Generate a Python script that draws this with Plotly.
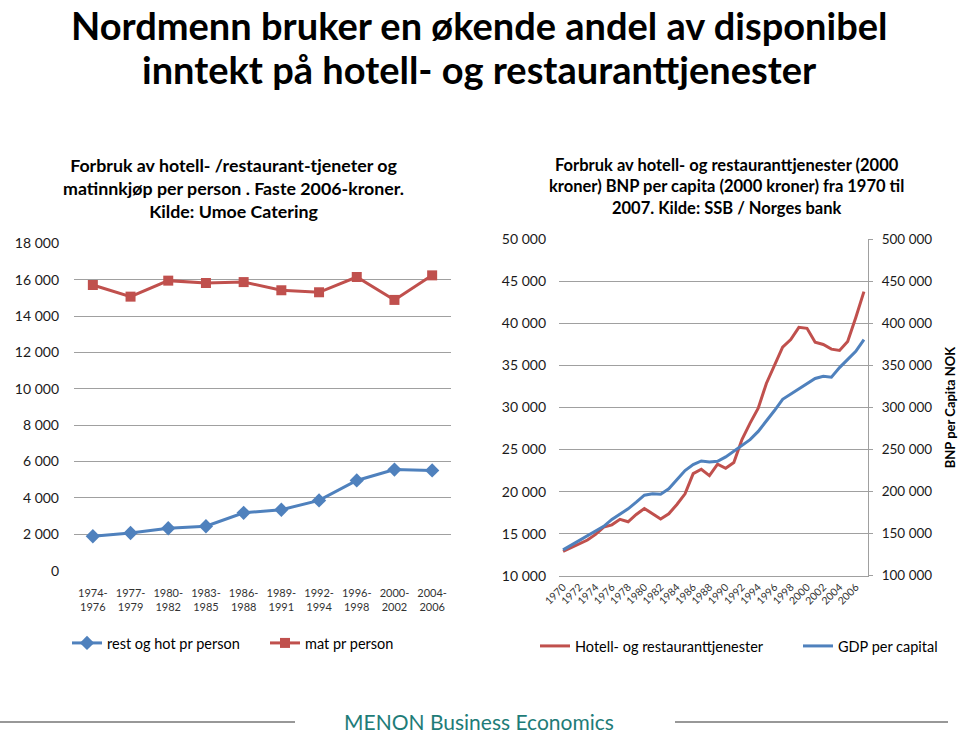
import plotly.graph_objects as go

# left chart: Umoe Catering, faste 2006-kroner
periods = ["1974-1976", "1977-1979", "1980-1982", "1983-1985", "1986-1988",
           "1989-1991", "1992-1994", "1996-1998", "2000-2002", "2004-2006"]
rest_og_hot = [1890, 2070, 2330, 2440, 3180, 3350, 3860, 4960, 5560, 5510]
mat = [15710, 15070, 15950, 15820, 15870, 15420, 15310, 16150, 14890, 16240]

# right chart: SSB / Norges bank, 2000-kroner
years = [str(y) for y in range(1970, 2008)]
hotell_rest = [12900, 13340, 13860, 14250, 14920, 15790, 16050, 16700, 16420, 17290,
               18000, 17370, 16740, 17370, 18470, 19740, 22140, 22660, 21910, 23260,
               22780, 23450, 26200, 28140, 29910, 32860, 35020, 37180, 38080, 39530,
               39410, 37760, 37490, 36940, 36780, 37840, 40710, 43770]
gdp = [130700, 136200, 141700, 147200, 152400, 158700, 167000, 173700, 179600, 187500,
       195800, 197400, 197000, 203300, 214300, 225000, 232100, 236400, 235200, 236100,
       241300, 248400, 255600, 261800, 271600, 283400, 296400, 309700, 316000, 321500,
       327800, 334500, 337200, 336000, 347400, 356800, 366700, 380800]

BLUE = "#4F81BD"
RED = "#C0504D"
GRID = "#a0a0a0"
FONT = "Lato"
W, H = 960, 734


def px_x(x):
    return x / W


def px_y(y):
    return 1 - y / H


fig = go.Figure()

#### left chart ############################################################
fig.add_trace(go.Scatter(
    x=periods, y=rest_og_hot, mode="lines+markers", name="rest og hot pr person",
    line=dict(color=BLUE, width=3), marker=dict(symbol="diamond", size=11, color=BLUE),
    xaxis="x", yaxis="y", legend="legend",
))
fig.add_trace(go.Scatter(
    x=periods, y=mat, mode="lines+markers", name="mat pr person",
    line=dict(color=RED, width=3), marker=dict(symbol="square", size=10, color=RED),
    xaxis="x", yaxis="y", legend="legend",
))

#### right chart ###########################################################
fig.add_trace(go.Scatter(
    x=years, y=hotell_rest, mode="lines", name="Hotell- og restauranttjenester",
    line=dict(color=RED, width=3), xaxis="x2", yaxis="y2", legend="legend2",
))
fig.add_trace(go.Scatter(
    x=years, y=gdp, mode="lines", name="GDP per capital",
    line=dict(color=BLUE, width=3), xaxis="x2", yaxis="y3", legend="legend2",
))

tick_font = dict(family=FONT, size=14, color="#1a1a1a")

fig.update_layout(
    width=W, height=H,
    margin=dict(l=0, r=0, t=0, b=0, autoexpand=False),
    paper_bgcolor="white", plot_bgcolor="white",
    separators=", ",
    font=dict(family=FONT, color="#000"),
    xaxis=dict(
        domain=[px_x(74), px_x(451)], anchor="y", type="category",
        range=[-0.5, 9.5], showgrid=False, showline=False, ticks="",
        tickvals=periods, ticktext=[p.replace("-", "-<br>") for p in periods],
        tickfont=dict(family=FONT, size=11, color="#333"), tickangle=0,
        ticklabelstandoff=14,
    ),
    yaxis=dict(
        domain=[px_y(571), px_y(243)], anchor="x", range=[-20, 18020], dtick=2000,
        tickformat=",d", showgrid=True, gridcolor=GRID, gridwidth=1, zeroline=False,
        showline=False, ticks="", tickfont=tick_font, ticklabelstandoff=14,
    ),
    xaxis2=dict(
        domain=[px_x(559), px_x(868)], anchor="y2", type="category",
        range=[-0.5, 37.5], showgrid=False, showline=True, linecolor=GRID,
        linewidth=1, ticks="", tickvals=years[::2], tickangle=-45,
        tickfont=dict(family=FONT, size=10.5, color="#333"),
    ),
    yaxis2=dict(
        domain=[px_y(576), px_y(239)], anchor="x2", range=[9970, 50030], dtick=5000,
        tickformat=",d", showgrid=True, gridcolor=GRID, gridwidth=1, zeroline=False,
        showline=False, ticks="", tickfont=tick_font, ticklabelstandoff=12,
    ),
    yaxis3=dict(
        overlaying="y2", anchor="x2", side="right", range=[99700, 500300],
        dtick=50000, tickformat=",d", showgrid=False, zeroline=False, showline=True,
        linecolor=GRID, linewidth=1, ticks="outside", ticklen=4,
        tickcolor=GRID, tickfont=dict(family=FONT, size=13.5, color="#1a1a1a"),
        ticklabelstandoff=6,
        title=dict(text="<b>BNP per Capita NOK</b>", standoff=14,
                   font=dict(family=FONT, size=13, color="#000")),
    ),
    legend=dict(
        orientation="h", x=px_x(67), y=px_y(643), xanchor="left", yanchor="middle",
        font=dict(family=FONT, size=14.5, color="#000"), itemwidth=30,
        entrywidth=153, entrywidthmode="pixels", bgcolor="rgba(0,0,0,0)",
    ),
    legend2=dict(
        orientation="h", x=px_x(535), y=px_y(646), xanchor="left", yanchor="middle",
        font=dict(family=FONT, size=14.5, color="#000"), itemwidth=30,
        entrywidth=218, entrywidthmode="pixels", bgcolor="rgba(0,0,0,0)",
    ),
    showlegend=True,
)

#### titles and footer #####################################################
annotations = [
    dict(text="<b>Nordmenn bruker en økende andel av disponibel</b>",
         x=px_x(479), y=1, yanchor="top", font=dict(family=FONT, size=38, color="#000")),
    dict(text="<b>inntekt på hotell- og restauranttjenester</b>",
         x=px_x(479), y=px_y(69), font=dict(family=FONT, size=38, color="#000")),
    dict(text="<b>Forbruk av hotell- /restaurant-tjeneter og<br>matinnkjøp per person . Faste 2006-kroner.<br>Kilde: Umoe Catering</b>",
         x=px_x(233), y=px_y(188), font=dict(family=FONT, size=17.8, color="#000")),
    dict(text="<b>Forbruk av hotell- og restauranttjenester (2000<br>kroner) BNP per capita (2000 kroner) fra 1970 til<br>2007. Kilde: SSB / Norges bank</b>",
         x=px_x(726), y=px_y(186), font=dict(family=FONT, size=16.5, color="#000")),
    dict(text="MENON Business Economics", x=px_x(479), y=px_y(721),
         font=dict(family=FONT, size=21, color="#1E7C78")),
]
for a in annotations:
    a.setdefault("yanchor", "middle")
    a.update(xref="paper", yref="paper", showarrow=False, xanchor="center",
             align="center")
fig.update_layout(annotations=annotations)

for x0, x1 in [(0, 295), (675, 948)]:
    fig.add_shape(type="line", xref="paper", yref="paper",
                  x0=px_x(x0), x1=px_x(x1), y0=px_y(722), y1=px_y(722),
                  line=dict(color="#333", width=1.2))

# the page's default body margin would push the figure 8px right and down
fig.write_html("out.html", config={"displayModeBar": False},
               post_script="document.body.style.margin = '0';")
